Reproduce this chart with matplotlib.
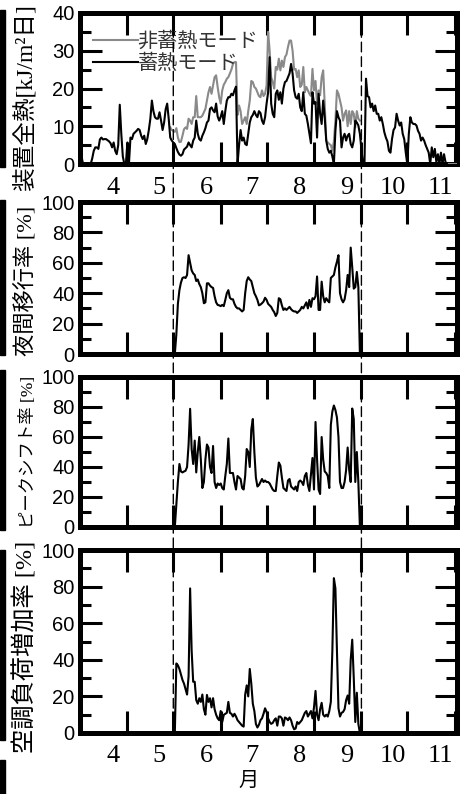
import numpy as np
import matplotlib
matplotlib.use('Agg')
import matplotlib.pyplot as plt
from matplotlib.patches import ConnectionPatch, Rectangle
from matplotlib.ticker import FixedLocator, MultipleLocator, FixedFormatter, NullFormatter

plt.rcParams['font.family'] = ['Liberation Serif', 'Noto Sans CJK JP']

# 日付は通日 (3/1 = 60)
month_start = [91, 121, 152, 182, 213, 244, 274, 305]
month_label = ['4', '5', '6', '7', '8', '9', '10', '11']
season_start = 121   # 蓄熱期間 開始 (5/1)
season_end = 244     # 蓄熱期間 終了 (9/1)

# 装置全熱 [kJ/m2日] 蓄熱モード (3/1 から毎日)
heat_store_start = 60
heat_store = [
    4.4, 2, 0, 0, 0, 0, 0, 0, 1.5, 3.5,
    4.4, 4.4, 4.0, 6.5, 7, 6.5, 6.6, 6.6, 6.3, 6,
    5.5, 4.4, 5.7, 3.5, 2.6, 5, 15.7, 8, 2, 0,
    0, 5.7, 0, 7, 6.6, 8, 8.4, 8.8, 9.3, 9,
    7.5, 6.6, 7.5, 5.3, 6.6, 9, 12, 16.8, 14, 12.4,
    12, 12, 13.7, 11.5, 9, 11, 14.5, 16, 12, 7,
    6.2, 5.7, 5.3, 4.2, 3.2, 2.5, 2.2, 2.6, 3.8, 4.2,
    4.6, 5.7, 5.0, 4.4, 6.2, 7, 11.5, 8, 6.6, 6.2,
    7.5, 8.4, 9.5, 11, 11.5, 14.6, 15, 14.2, 13.7, 16,
    12.6, 11.5, 12.5, 14, 10.6, 14, 16.8, 17.7, 17.7, 18.6,
    18.2, 19.5, 20.5, 0, 5, 9, 6.2, 7, 5.3, 5,
    8, 11, 12.4, 13, 14, 13, 12.4, 14, 13.5, 11.5,
    10.6, 12.4, 16, 19, 28.3, 16, 13.3, 12.4, 18.6, 19.5,
    17, 19, 16, 20, 21.7, 22, 23, 24, 26.5, 24,
    19.5, 17.7, 17.3, 18.6, 15, 14, 19, 13.3, 12.8, 10.6,
    8, 5.5, 19, 16, 16.4, 7, 18.6, 13.3, 10.6, 16.8,
    12.4, 6.2, 4, 3, 3.5, 2, 0, 8.8, 14, 12.4,
    11.5, 4.4, 7, 8, 6.2, 7.5, 8, 5.3, 4.4, 6.2,
    11.5, 11, 10.2, 8, 4, 0, 0, 22.6, 18, 17.7,
    15, 16, 14, 15.5, 13.3, 13.3, 11.5, 12.4, 10.6, 8.4,
    7, 6, 3.5, 3, 6.6, 9, 9.7, 13.3, 11.5, 10.2,
    11, 8, 6.6, 3, 0, 8, 12.4, 11, 10.6, 10.6,
    10.2, 8.8, 8, 6.2, 7, 6.2, 5, 4, 3, 0,
    4.4, 1.8, 4, 0.5, 2.6, 0, 3, 0, 2.6, 0.5,
    0, 0,
]

# 装置全熱 非蓄熱モード (蓄熱モードと異なる期間のみ)
heat_nostore_start = 119
heat_nostore = [
    9.7,
    9.0, 8.8, 8.5, 9.5, 7, 5.8, 5.9, 7.5, 9.2, 9.7,
    9.3, 12, 11.5, 10.6, 12.4, 12.4, 18, 12.4, 12.4, 12.4,
    12.8, 13.7, 14.6, 16.8, 19, 20.4, 18.6, 20.8, 23, 23.5,
    20.4, 17.7, 16, 19.5, 21, 21.7, 22.6, 23, 24, 25,
    26.5, 27, 27, 13, 15.5, 14, 10.6, 11.5, 12.4, 10.6,
    14, 16.8, 22, 21.7, 20.4, 20, 19, 18, 17.7, 19.5,
    18, 18.6, 20.8, 35, 30, 23, 21.7, 20, 25.7, 25,
    27.9, 24.8, 27.4, 25.7, 28.3, 29, 31, 32.7, 32.7, 30,
    25, 25.2, 23, 24.8, 20.4, 21, 25.7, 19, 20.4, 19.5,
    18.6, 18, 25.2, 19.5, 22, 15.9, 19.5, 18.2, 23, 24.8,
    16, 6.2, 5.7, 5.3, 5, 3.5, 6, 11.5, 19.5, 18.6,
    16.8, 15, 11.5, 13.3, 14.2, 10, 14, 10.6, 14, 13.3,
    9.7, 14, 12, 11.5,
]
heat_nostore_tail_days = [301, 306]
heat_nostore_tail = [0, 0]

# 率 [%] (5/1 から毎日)
rate_start = 121
night_shift = [
    0, 0, 13, 33, 42, 47, 50, 50.5, 50,
    52, 65, 60, 55, 53, 52, 48, 49, 46, 44,
    40, 33.4, 34, 46.5, 46.5, 45, 44, 43.5, 38, 34,
    32.3, 32, 31.5, 32.3, 31.5, 35.6, 40, 42, 37, 36,
    36, 33, 31, 30, 30, 29, 28, 29, 40, 48,
    50.5, 49, 48, 44, 40, 38, 35.6, 32, 32.5, 33.4,
    34.5, 37, 35.6, 33, 32, 31, 29, 27.5, 25, 27,
    36.7, 36, 32, 29, 30, 29, 30, 31, 29.5, 28.5,
    28, 28, 27, 28, 29, 31, 30, 32, 34, 30,
    35.6, 31, 36.7, 36, 38, 51, 29, 29, 47.6, 38,
    34, 36.7, 35, 34, 50, 51, 52, 57, 60.7, 65,
    40, 36, 34, 36, 42, 52, 44, 70, 57, 43,
    44, 54, 44, 0,
]
peak_shift = [
    0, 0, 15, 30, 42, 37, 36.4, 37, 37.5,
    40, 55, 78.8, 52, 42, 57.6, 36.4, 50, 60, 45,
    26, 30, 45, 55, 53, 40, 36, 54, 30, 26,
    29, 28, 29, 26, 25, 34, 42, 59, 36, 36,
    36, 30, 25, 34, 33, 32, 26, 25, 34, 52,
    50, 40, 65, 72, 50, 33, 27, 28, 30, 32,
    30, 31, 30, 30, 29, 27, 25, 24, 24, 34,
    43, 41, 33, 26, 25, 24, 31, 32, 27, 26,
    25, 27, 24, 30, 31, 30, 28, 34, 36, 28,
    24, 35, 46, 25, 70, 45, 25, 22, 60, 45,
    37, 36, 34, 26, 68, 77, 81, 78, 73, 60,
    30, 26, 26, 30, 38, 53, 38, 30, 79, 72,
    30, 50, 30, 0,
]
load_increase = [
    0, 0, 38, 37, 35, 32, 29, 27, 24,
    21, 31, 79, 45, 28, 28, 18, 16, 19, 17,
    21, 13, 10, 20.8, 17, 19, 14, 19, 13, 10,
    8, 7, 12, 6, 9.9, 10.5, 11, 17, 11, 10.5,
    9, 10.5, 9, 7, 6, 5, 4, 3.5, 21, 26,
    20, 35, 27, 16, 12, 5, 3, 4.5, 7, 8,
    10.5, 13.5, 11.5, 8, 6, 5, 5.5, 7, 8, 4,
    9, 9, 8, 4, 8.5, 8, 7, 8.5, 7, 4,
    2, 2.5, 6, 5, 6, 7, 9, 11, 12, 9,
    10.5, 12, 8, 14, 23, 10, 7, 13, 16.5, 10,
    9, 10, 9, 12, 17, 45, 84.6, 79, 45, 13.5,
    9, 11, 11.5, 13, 18, 20.5, 16, 40, 51, 30,
    6, 22, 5, 0,
]

W, H = 474, 794
fig = plt.figure(figsize=(W / 100, H / 100), dpi=100)

def px_axes(left, top, right, bottom):
    return fig.add_axes([left / W, 1 - bottom / H, (right - left) / W, (bottom - top) / H])

ax1 = px_axes(80, 13, 457, 164)
ax2 = px_axes(80, 202, 457, 354)
ax3 = px_axes(80, 377, 457, 527)
ax4 = px_axes(80, 550, 457, 733)
axes = [ax1, ax2, ax3, ax4]

lw = 1.5
d = np.arange(heat_nostore_start, heat_nostore_start + len(heat_nostore))
ax1.plot(d, heat_nostore, color='#8a8a8a', lw=lw, label='非蓄熱モード')
ax1.plot(heat_nostore_tail_days, heat_nostore_tail, color='#8a8a8a', lw=lw, zorder=3)
d = np.arange(heat_store_start, heat_store_start + len(heat_store))
ax1.plot(d, heat_store, color='black', lw=lw, label='蓄熱モード')

d = np.arange(rate_start, rate_start + len(night_shift))
ax2.plot(d, night_shift, color='black', lw=lw)
ax3.plot(d, peak_shift, color='black', lw=lw)
ax4.plot(d, load_increase, color='black', lw=lw)

ax1.set_ylim(0, 40)
ax1.yaxis.set_major_locator(MultipleLocator(10))
ax1.yaxis.set_minor_locator(MultipleLocator(5))
for ax in axes[1:]:
    ax.set_ylim(0, 100)
    ax.yaxis.set_major_locator(MultipleLocator(20))
    ax.yaxis.set_minor_locator(MultipleLocator(10))

label_pos = [m - 9.5 for m in month_start]
for ax in axes:
    ax.set_xlim(60, 306.5)
    ax.xaxis.set_major_locator(FixedLocator(month_start))
    ax.xaxis.set_major_formatter(NullFormatter())
    ax.xaxis.set_minor_locator(FixedLocator(label_pos))
    ax.xaxis.set_minor_formatter(FixedFormatter(month_label))
    ax.tick_params(which='both', direction='in', top=True, right=True, width=2.2)
    ax.tick_params(which='major', length=16)
    ax.tick_params(axis='y', which='minor', length=8)
    ax.tick_params(axis='x', which='minor', length=0, pad=9, labelsize=19)
    ax.tick_params(axis='y', pad=4, labelsize=14.5)
    for lab in ax.get_yticklabels():
        lab.set_family('Liberation Sans')
    for s in ax.spines.values():
        s.set_linewidth(3.6)
for ax in [ax2, ax3]:
    ax.xaxis.set_minor_formatter(NullFormatter())

ax1.set_ylabel('装置全熱[kJ/m²日]', fontsize=17)
ax1.yaxis.set_label_coords(-0.115, 0.44)
ax2.set_ylabel('夜間移行率 [%]', fontsize=16)
ax2.yaxis.set_label_coords(-0.112, 0.48)
ax3.set_ylabel('ピークシフト率 [%]', fontsize=12.5)
ax3.yaxis.set_label_coords(-0.115, 0.5)
ax4.set_ylabel('空調負荷増加率 [%]', fontsize=17.5)
ax4.yaxis.set_label_coords(-0.112, 0.47)
ax4.set_xlabel('月', fontsize=14.5)
ax4.xaxis.set_label_coords(0.446, -0.215)

leg = ax1.legend(loc='upper left', bbox_to_anchor=(0.035, 0.88), frameon=False,
                 handlelength=2.2, handletextpad=0.0, labelspacing=0.05,
                 borderpad=0, borderaxespad=0,
                 prop={'family': 'Noto Sans CJK JP', 'size': 14.5})
for t in leg.get_texts():
    t.set_color('#333333')

# 蓄熱期間の境界 (破線)
for x in [season_start, season_end]:
    con = ConnectionPatch(xyA=(x, 40), coordsA='data', axesA=ax1,
                          xyB=(x, 0), coordsB='data', axesB=ax4,
                          color='black', lw=1.0, linestyle=(0, (7, 3.5)))
    fig.add_artist(con)

# 左端の切れ残り
for top, bottom in [(10, 167), (200, 355), (370, 530), (550, 740), (760, 794)]:
    fig.add_artist(Rectangle((0, 1 - bottom / H), 5 / W, (bottom - top) / H,
                             transform=fig.transFigure, color='black'))

fig.savefig('out.png', dpi=100)
